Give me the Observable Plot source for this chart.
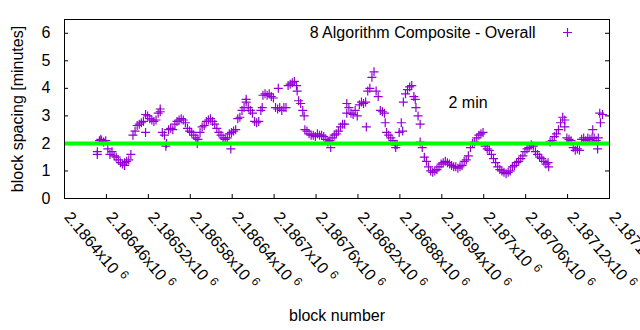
<!DOCTYPE html>
<html><head><meta charset="utf-8">
<script src="https://cdn.jsdelivr.net/npm/d3@7"></script>
<script src="https://cdn.jsdelivr.net/npm/@observablehq/plot@0.6"></script>
<style>body{margin:0;background:#fff;}</style>
</head><body><div id="chart"></div>
<script>
const firstBlock = 2186447;
const blockStep = 3;
const spacing = [
  1.7, 2.1, 2.1, 2.05, 2.1, 1.8, 1.6, 1.7, 1.55, 1.5,
  1.4, 1.3, 1.25, 1.3, 1.35, 1.4, 1.6, 2.3, 2.45, 2.65,
  2.7, 2.75, 2.8, 3.05, 3.0, 2.9, 2.85, 2.8, 2.85, 3.1,
  3.15, 2.4, 2.3, 2.0, 2.5, 2.55, 2.5, 2.7, 2.8, 2.85,
  2.9, 2.85, 2.75, 2.55, 2.45, 2.4, 2.3, 2.2, 2.15, 2.4,
  2.6, 2.65, 2.8, 2.85, 2.9, 2.8, 2.7, 2.55, 2.4, 2.3,
  2.2, 2.15, 2.2, 2.35, 2.4, 2.45, 2.5, 2.9, 2.95, 3.2,
  3.3, 3.5, 3.3, 3.2, 3.1, 2.8, 2.75, 2.8, 3.2, 3.75,
  3.8, 3.75, 3.8, 3.7, 3.65, 3.3, 3.25, 3.3, 3.2, 3.3,
  3.3, 4.1, 4.15, 4.2, 4.25, 4.1, 3.55, 3.45, 3.2, 2.5,
  2.45, 2.35, 2.3, 2.3, 2.25, 2.35, 2.3, 2.3, 2.25, 2.15,
  2.05, 2.1, 2.2, 2.3, 2.35, 2.45, 2.6, 2.7, 2.7, 3.1,
  3.3, 3.1, 3.05, 3.2, 3.0, 3.4, 3.5, 3.45, 3.5, 3.9,
  4.0, 4.4, 4.6, 3.9, 3.7, 3.2, 3.15, 3.1, 2.4, 2.3,
  2.2, 2.1, 1.95, 1.95, 2.4, 2.75, 3.5, 3.8, 3.95, 4.05,
  4.1, 3.7, 3.3, 3.0, 2.7, 1.85, 1.5, 1.35, 1.15, 1.0,
  0.95, 1.0, 1.05, 1.15, 1.25, 1.3, 1.35, 1.3, 1.25, 1.2,
  1.15, 1.15, 1.1, 1.15, 1.2, 1.35, 1.4, 1.55, 1.85, 2.0,
  2.05, 2.2, 2.3, 2.35, 2.4, 1.9, 1.8, 1.75, 1.6, 1.45,
  1.3, 1.15, 1.05, 1.0, 0.95, 0.9, 0.95, 1.0, 1.15, 1.2,
  1.3, 1.35, 1.45, 1.55, 1.7, 1.8, 1.85, 1.95, 1.9, 1.7,
  1.6, 1.5, 1.45, 1.35, 1.25, 1.3, 2.05, 2.1, 2.25, 2.35,
  2.5, 2.75, 2.95, 2.85, 2.2, 2.15, 2.1, 1.85, 1.75, 1.8,
  1.75, 2.15, 2.2, 2.1, 2.2, 2.15, 2.2, 2.2, 2.1, 2.2,
  2.75, 3.05
];
const extraBlocks = [2186447, 2186452, 2186486, 2186516, 2186537, 2186545, 2186590, 2186638, 2186660, 2186683, 2186706, 2186733, 2186743, 2186781, 2186804, 2186832, 2186859, 2186874, 2186884, 2186902, 2186909, 2187093, 2187116, 2187156, 2187163, 2187166];
const extraSpacing = [1.6, 2.15, 1.2, 2.4, 3.25, 1.9, 2.0, 1.8, 3.6, 3.3, 4.0, 3.9, 3.0, 1.85, 3.45, 2.6, 2.75, 1.85, 2.45, 3.6, 2.05, 1.15, 2.6, 2.5, 1.8, 3.1];
const xTickValues = [2186400, 2186460, 2186520, 2186580, 2186640, 2186700, 2186760, 2186820, 2186880, 2186940, 2187000, 2187060, 2187120, 2187180];
const xTickLabels = ["2.1864", "2.18646", "2.18652", "2.18658", "2.18664", "2.1867", "2.18676", "2.18682", "2.18688", "2.18694", "2.187", "2.18706", "2.18712", "2.18718"];
const xTickExponent = "6";
const yTickValues = [0, 1, 2, 3, 4, 5, 6];
const seriesName = "8 Algorithm Composite - Overall";
const targetLabel = "2 min";
const targetMinutes = [2];
const yLabel = "block spacing [minutes]";
const xLabel = "block number";

const points = spacing.map((v, i) => ({block: firstBlock + i * blockStep, value: v}))
  .concat(extraBlocks.map((b, i) => ({block: b, value: extraSpacing[i]})));

const plus = {draw(ctx, size) {
  const r = Math.sqrt(size / Math.PI);
  ctx.moveTo(-r, 0); ctx.lineTo(r, 0);
  ctx.moveTo(0, -r); ctx.lineTo(0, r);
}};

const purple = "#9400d3";

const chart = Plot.plot({
  width: 640, height: 330,
  marginLeft: 64, marginRight: 31, marginTop: 19, marginBottom: 132,
  style: {fontFamily: "'Liberation Sans', Arial, sans-serif", fontSize: "16px", color: "black", background: "white"},
  x: {domain: [2186400, 2187180], axis: null},
  y: {domain: [0, 6.5], axis: null},
  marks: [
    Plot.axisY(yTickValues, {tickSize: 0, tickPadding: 14, label: null, fontSize: 16}),
    Plot.tickY(yTickValues, {y: d => d, insetRight: 541, stroke: "black"}),
    Plot.tickY(yTickValues, {y: d => d, insetLeft: 541, stroke: "black"}),
    Plot.tickX(xTickValues, {x: d => d, insetTop: 175, stroke: "black"}),
    Plot.dot(points, {x: "block", y: "value", symbol: plus, r: 4.5, stroke: purple, fill: "none", strokeWidth: 1.2}),
    Plot.ruleY(targetMinutes, {stroke: "#00ff00", strokeWidth: 4}),
    Plot.frame({stroke: "black"}),
    Plot.text(xTickValues, {x: d => d, frameAnchor: "bottom", text: (d, i) => xTickLabels[i] + "x10^" + xTickExponent,
      rotate: 50, textAnchor: "start", lineAnchor: "bottom", dy: 19, dx: -1, fontSize: 16, fill: "black"}),
    Plot.text([seriesName], {frameAnchor: "top-right", text: d => d, textAnchor: "end", lineAnchor: "middle", dx: -74, dy: 13, fill: "black"}),
    Plot.dot([0], {frameAnchor: "top-right", dx: -42, dy: 13, symbol: plus, r: 4.5, stroke: purple, fill: "none", strokeWidth: 1.2}),
    Plot.text([targetLabel], {frameAnchor: "top-left", text: d => d, textAnchor: "start", lineAnchor: "middle", dx: 384, dy: 83, fill: "black"}),
    Plot.text([yLabel], {frameAnchor: "left", text: d => d, rotate: -90, textAnchor: "middle", lineAnchor: "middle", dx: -47, fill: "black"}),
    Plot.text([xLabel], {frameAnchor: "bottom", text: d => d, textAnchor: "middle", lineAnchor: "middle", dy: 117, fill: "black"})
  ]
});

chart.querySelectorAll("text").forEach(t => {
  const s = t.textContent;
  if (s.includes("x10^")) {
    const [base, exp] = s.split("^");
    t.textContent = base;
    const sup = document.createElementNS("http://www.w3.org/2000/svg", "tspan");
    sup.setAttribute("dx", "5");
    sup.setAttribute("dy", "-6");
    sup.setAttribute("font-size", "12");
    sup.textContent = exp;
    t.appendChild(sup);
  }
});

document.getElementById("chart").appendChild(chart);
</script>
</body></html>
